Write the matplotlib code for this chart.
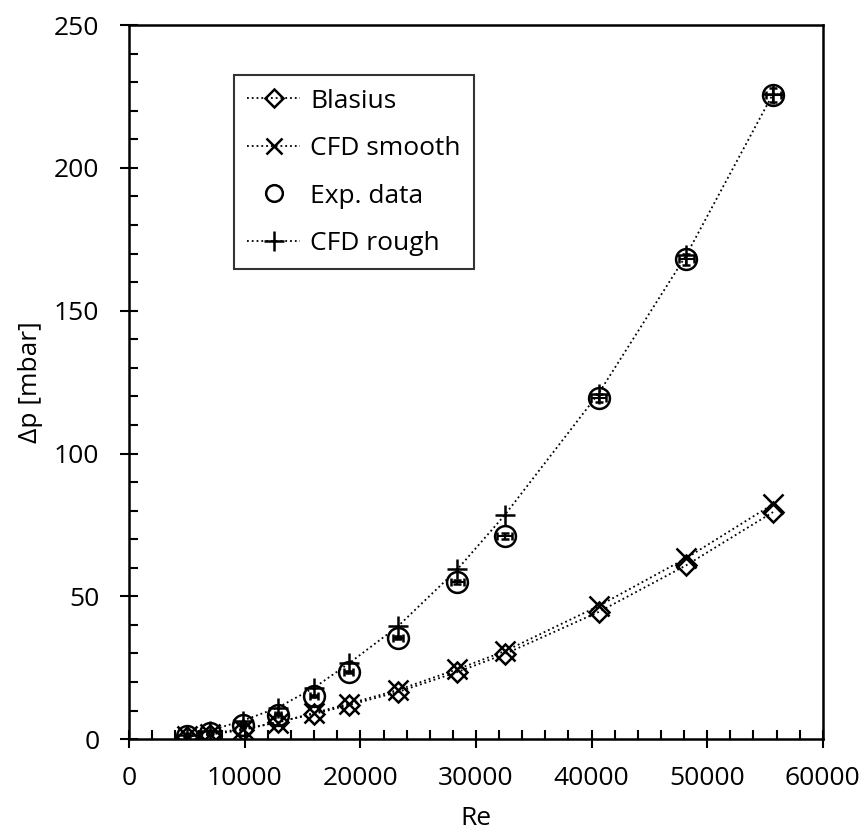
from matplotlib import pyplot as plt
from matplotlib.lines import Line2D
from matplotlib.ticker import MultipleLocator

# Reynolds numbers of the measured / simulated cases
re = [5000, 7000, 9850, 12850, 16000, 19000, 23250, 28400, 32500, 40600, 48200, 55700]

# pressure drop [mbar]
dp_blasius = [0.9, 1.6, 3.2, 6.0, 8.8, 11.9, 16.5, 23.5, 29.8, 44.5, 60.9, 79.5]
dp_cfd_smooth = [1.0, 1.9, 3.6, 5.8, 9.2, 12.4, 17.2, 24.5, 30.8, 46.6, 63.4, 82.3]
dp_exp = [1.0, 2.0, 5.0, 8.5, 15.0, 23.5, 35.5, 55.0, 71.0, 119.5, 168.0, 225.5]
dp_cfd_rough = [1.5, 3.0, 6.5, 11.0, 18.0, 26.5, 39.5, 59.5, 78.5, 121.0, 169.5, 226.0]

# measurement uncertainty of the experiment
re_err = [100, 140, 200, 260, 320, 380, 460, 570, 650, 650, 650, 650]
dp_err = [0.1, 0.1, 0.1, 0.2, 0.3, 0.4, 0.6, 0.8, 1.0, 1.5, 2.0, 2.5]

plt.rcParams['font.family'] = ['Open Sans', 'DejaVu Sans']

fig = plt.figure(figsize=(8.67, 8.38), dpi=100)
ax = fig.add_axes([0.149, 0.118, 0.800, 0.852])

ax.plot(re, dp_blasius, ':', color='black', lw=1.3, marker='D', ms=10,
        mfc='none', mec='black', mew=1.8)
ax.plot(re, dp_cfd_smooth, ':', color='black', lw=1.3, marker='x', ms=14,
        mew=1.8)
ax.errorbar(re, dp_exp, xerr=re_err, yerr=dp_err, fmt='o', ms=15,
            mfc='none', mec='black', mew=1.8, ecolor='black', elinewidth=1.5,
            capsize=3, capthick=1.5)
ax.plot(re, dp_cfd_rough, ':', color='black', lw=1.3, marker='+', ms=15,
        mew=1.8)

ax.set_xlim(0, 60000)
ax.set_ylim(0, 250)
ax.xaxis.set_major_locator(MultipleLocator(10000))
ax.xaxis.set_minor_locator(MultipleLocator(2000))
ax.yaxis.set_major_locator(MultipleLocator(50))
ax.yaxis.set_minor_locator(MultipleLocator(10))
ax.tick_params(which='major', direction='inout', length=13, width=1.5,
               labelsize=19)
ax.tick_params(axis='y', which='major', pad=15)
ax.tick_params(axis='x', which='major', pad=13)
ax.tick_params(which='minor', direction='in', length=6.5, width=1.5)
for s in ax.spines.values():
    s.set_linewidth(1.8)

ax.set_xlabel('Re', fontsize=19, labelpad=11)
ax.set_ylabel('Δp [mbar]', fontsize=19, labelpad=8)

# legend in the same order as the original figure
handles = [
    Line2D([], [], ls=':', color='black', lw=1.3, marker='D', ms=9,
           mfc='none', mec='black', mew=1.8),
    Line2D([], [], ls=':', color='black', lw=1.3, marker='x', ms=12, mew=1.8),
    Line2D([], [], ls='none', marker='o', ms=12, mfc='none', mec='black',
           mew=1.8),
    Line2D([], [], ls=':', color='black', lw=1.3, marker='+', ms=14, mew=1.8),
]
labels = ['Blasius', 'CFD smooth', 'Exp. data', 'CFD rough']
leg = ax.legend(handles, labels, loc='upper left', bbox_to_anchor=(0.132, 0.948),
                fontsize=19, frameon=True, fancybox=False, edgecolor='black',
                handlelength=2.0, borderpad=0.5, labelspacing=0.85,
                handletextpad=0.4)
leg.get_frame().set_linewidth(1.5)

fig.savefig('out.png', dpi=100)
